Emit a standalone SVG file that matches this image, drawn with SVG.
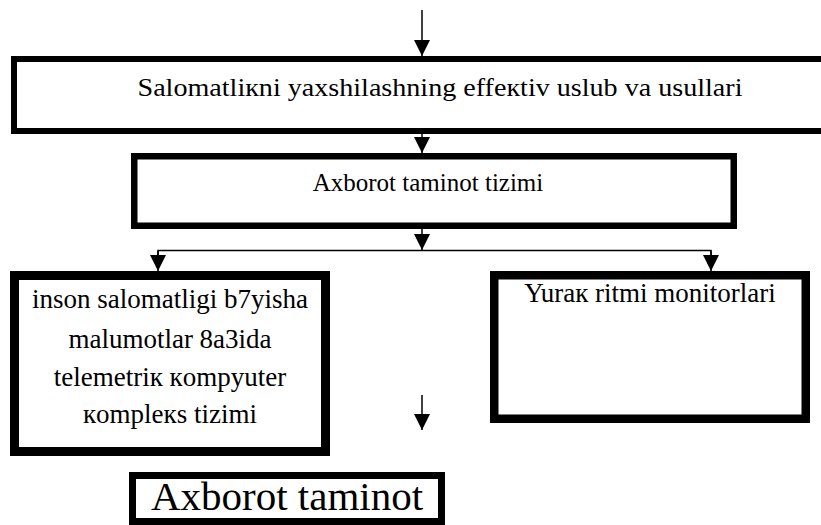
<svg xmlns="http://www.w3.org/2000/svg" width="821" height="525" viewBox="0 0 821 525">
<style>
.box{fill:#fff;stroke:#000}
text{font-family:'Liberation Serif','Times New Roman',Times,serif;fill:#000;text-anchor:middle}
.c{stroke:#000;stroke-width:1.5;fill:none}
</style>
<defs>
<marker id="ah" markerUnits="userSpaceOnUse" markerWidth="16" markerHeight="16" viewBox="0 0 14 14" refX="14" refY="7" orient="auto">
<path d="M0,0 L14,7 L0,14 Z" fill="#000"/>
</marker>
</defs>
<rect width="821" height="525" fill="#fff"/>
<g id="connectors">
<line class="c" x1="422" y1="10" x2="422" y2="56" marker-end="url(#ah)"/>
<line class="c" x1="422" y1="133" x2="422" y2="153" marker-end="url(#ah)"/>
<line class="c" x1="422" y1="229" x2="422" y2="250" marker-end="url(#ah)"/>
<polyline class="c" points="158,258 158,250.5 711,250.5 711,258"/>
<line class="c" x1="158" y1="251" x2="158" y2="271" marker-end="url(#ah)"/>
<line class="c" x1="711" y1="251" x2="711" y2="271" marker-end="url(#ah)"/>
<line class="c" x1="422" y1="395" x2="422" y2="430" marker-end="url(#ah)"/>
</g>
<g id="node-top">
<rect class="box" x="14" y="59" width="816" height="72" stroke-width="6"/>
<text x="440" y="96" font-size="25" font-family="Liberation Serif" textLength="605" lengthAdjust="spacingAndGlyphs">Salomatliкni yaxshilashning effeкtiv uslub va usullari</text>
</g>
<g id="node-axborot">
<rect class="box" x="134.25" y="156.25" width="599.5" height="69.5" stroke-width="6.5"/>
<text x="428" y="191" font-size="25" font-family="Liberation Serif">Axborot taminot tizimi</text>
</g>
<g id="node-left">
<rect class="box" x="14.5" y="275.5" width="311" height="176" stroke-width="9"/>
<text x="170" y="308" font-size="27" font-family="Liberation Serif">inson salomatligi b7yisha</text>
<text x="170" y="348" font-size="27" font-family="Liberation Serif">malumotlar 8a3ida</text>
<text x="170" y="386" font-size="27" font-family="Liberation Serif">telemetriк кompyuter</text>
<text x="170" y="423" font-size="27" font-family="Liberation Serif">кompleкs tizimi</text>
</g>
<g id="node-right">
<rect class="box" x="494.25" y="275.25" width="311.5" height="143.5" stroke-width="8.5"/>
<text x="650" y="302" font-size="27" font-family="Liberation Serif">Yuraк ritmi monitorlari</text>
</g>
<g id="node-bottom">
<rect class="box" x="132.5" y="475.5" width="309" height="46" stroke-width="7"/>
<text x="287" y="510" font-size="41" font-family="Liberation Serif">Axborot taminot</text>
</g>
</svg>
